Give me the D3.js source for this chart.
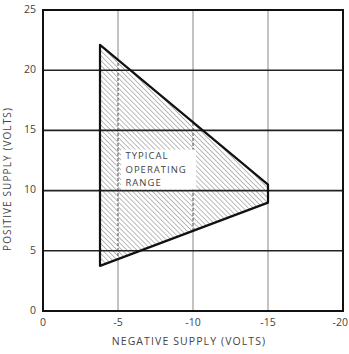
<!DOCTYPE html>
<html>
<head>
<meta charset="utf-8">
<script src="https://cdn.jsdelivr.net/npm/d3@7"></script>
<style>
  html, body { margin: 0; padding: 0; background: #fff; }
  svg { display: block; }
  text { font-family: "Open Sans", "DejaVu Sans", sans-serif; fill: #444; }
</style>
</head>
<body>
<svg id="chart" width="349" height="354"></svg>
<script>
// Supply-voltage operating range
const xTicks = [0, -5, -10, -15, -20];
const yTicks = [0, 5, 10, 15, 20, 25];
const xTickLabels = ["0", "-5", "-10", "-15", "-20"];
const yTickLabels = ["0", "5", "10", "15", "20", "25"];
// boundary of the operating region: [negative supply, positive supply]
const rangeNeg = [-3.8, -15, -15, -3.8];
const rangePos = [22.1, 10.5, 9.0, 3.75];
const regionLabel = ["TYPICAL", "OPERATING", "RANGE"];

const svg = d3.select("#chart");
const m = { left: 43, right: 6, top: 10, bottom: 43 };
const W = 349, H = 354;

const x = d3.scaleLinear().domain([0, -20]).range([m.left, W - m.right]);
const y = d3.scaleLinear().domain([0, 25]).range([H - m.bottom, m.top]);

// hatch pattern
const hs = 3.5;
const defs = svg.append("defs");
const pat = defs.append("pattern")
  .attr("id", "hatch").attr("patternUnits", "userSpaceOnUse")
  .attr("width", hs).attr("height", hs)
  .attr("patternTransform", "rotate(-45)");
pat.append("rect").attr("width", hs).attr("height", hs).attr("fill", "#fff");
pat.append("line").attr("x1", 0).attr("y1", 0).attr("x2", 0).attr("y2", hs)
  .attr("stroke", "#666").attr("stroke-width", 0.9);

const pts = rangeNeg.map((v, i) => [x(v), y(rangePos[i])]);
defs.append("clipPath").attr("id", "regionClip")
  .append("polygon").attr("points", pts.map(p => p.join(",")).join(" "));

// vertical grid lines (thin)
svg.append("g").selectAll("line").data(xTicks.slice(1, -1)).join("line")
  .attr("x1", d => x(d)).attr("x2", d => x(d))
  .attr("y1", y(0)).attr("y2", y(25))
  .attr("stroke", "#888").attr("stroke-width", 1);

// hatched operating region
svg.append("polygon")
  .attr("points", pts.map(p => p.join(",")).join(" "))
  .attr("fill", "url(#hatch)");

// grid lines shown dashed through the region
svg.append("g").attr("clip-path", "url(#regionClip)")
  .selectAll("line").data(xTicks.slice(1, -1)).join("line")
  .attr("x1", d => x(d)).attr("x2", d => x(d))
  .attr("y1", y(0)).attr("y2", y(25))
  .attr("stroke", "#444").attr("stroke-width", 1)
  .attr("stroke-dasharray", "3,2");

// horizontal grid lines (heavier)
svg.append("g").selectAll("line").data(yTicks.slice(1, -1)).join("line")
  .attr("x1", x(0)).attr("x2", x(-20))
  .attr("y1", d => y(d)).attr("y2", d => y(d))
  .attr("stroke", "#222").attr("stroke-width", 1.6);

// region outline
svg.append("polygon")
  .attr("points", pts.map(p => p.join(",")).join(" "))
  .attr("fill", "none").attr("stroke", "#111").attr("stroke-width", 2.2)
  .attr("stroke-linejoin", "round");

// label box inside the region
svg.append("rect")
  .attr("x", x(-5.2)).attr("y", y(13.4))
  .attr("width", x(-10.2) - x(-5.2)).attr("height", y(10.1) - y(13.4))
  .attr("fill", "#fff");
svg.append("g").selectAll("text").data(regionLabel).join("text")
  .attr("x", x(-5.5)).attr("y", (d, i) => y(12.8) + i * 13.5)
  .attr("font-size", 9.5).attr("letter-spacing", 1).attr("fill", "#333")
  .attr("dominant-baseline", "middle")
  .text(d => d);

// frame
svg.append("rect")
  .attr("x", x(0)).attr("y", y(25))
  .attr("width", x(-20) - x(0)).attr("height", y(0) - y(25))
  .attr("fill", "none").attr("stroke", "#111").attr("stroke-width", 2);

// tick labels (the last one kept inside the page edge)
svg.append("g").selectAll("text").data(xTicks).join("text")
  .attr("x", (d, i) => i === xTicks.length - 1 ? W - 1 : x(d))
  .attr("y", y(0) + 15)
  .attr("text-anchor", (d, i) => i === xTicks.length - 1 ? "end" : "middle")
  .attr("font-size", 10.5)
  .text((d, i) => xTickLabels[i]);
svg.append("g").selectAll("text").data(yTicks).join("text")
  .attr("x", x(0) - 7).attr("y", d => y(d))
  .attr("text-anchor", "end").attr("dominant-baseline", "middle").attr("font-size", 10.5)
  .text((d, i) => yTickLabels[i]);

// axis titles
svg.append("text")
  .attr("x", 189).attr("y", 345)
  .attr("text-anchor", "middle").attr("font-size", 10.5).attr("letter-spacing", 1.1)
  .text("NEGATIVE SUPPLY (VOLTS)");
svg.append("text")
  .attr("transform", "translate(11,179) rotate(-90)")
  .attr("text-anchor", "middle").attr("font-size", 10).attr("letter-spacing", 1.1)
  .text("POSITIVE SUPPLY (VOLTS)");
</script>
</body>
</html>
